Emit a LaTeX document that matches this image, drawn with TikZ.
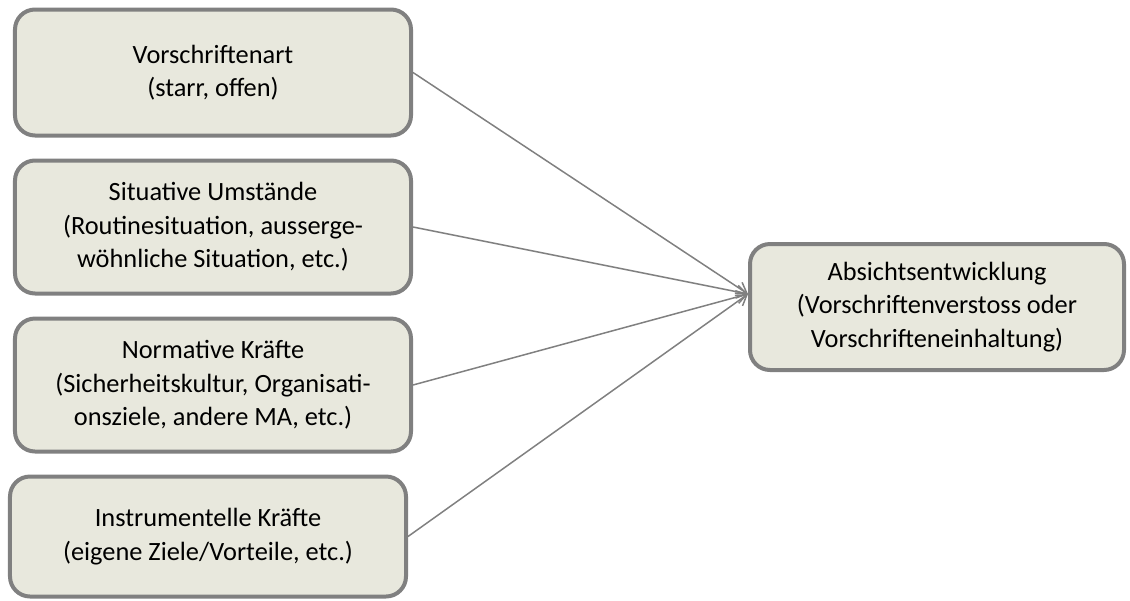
\documentclass[tikz,border=0pt]{standalone}
\usepackage{fontspec}
\setmainfont{Carlito}
\usepackage{tikz}
\usetikzlibrary{positioning}
\usetikzlibrary{arrows.meta}

\definecolor{boxfill}{RGB}{232,232,221}
\definecolor{boxline}{RGB}{128,128,128}

\begin{document}
\begin{tikzpicture}
    [factor/.style={draw=boxline, fill=boxfill, line width=0.08cm,
        rounded corners=0.4cm, align=center, minimum width=7.92cm,
        minimum height=2.52cm, font=\fontsize{15}{19}\selectfont},
     link/.style={draw=boxline, line width=0.03cm,
        -{Straight Barb[length=2mm,width=2.6mm]}},
     node distance=0.42cm]
    \useasboundingbox (0,0) rectangle (22.6,-12);

    \node[factor] (va) at (4.26,-1.45) {Vorschriftenart\\(starr, offen)};
    \node[factor, minimum height=2.66cm] (su) [below =of va]
        {Situative Umstände\\(Routinesituation, ausserge-\\wöhnliche Situation, etc.)};
    \node[factor, minimum height=2.66cm] (nk) [below =of su]
        {Normative Kräfte\\(Sicherheitskultur, Organisati-\\onsziele, andere MA, etc.)};
    \node[factor, minimum height=2.4cm] (ik) [below =of nk, xshift=-0.1cm]
        {Instrumentelle Kräfte\\(eigene Ziele/Vorteile, etc.)};
    \node[factor, minimum width=7.48cm] (ae) [right =6.7cm of su, yshift=-1.6cm]
        {Absichtsentwicklung\\(Vorschriftenverstoss oder\\Vorschrifteneinhaltung)};

    \coordinate (tip) at ([yshift=0.26cm]ae.west);

    \draw[link] (va.east) -- (tip);
    \draw[link] (su.east) -- (tip);
    \draw[link] (nk.east) -- (tip);
    \draw[link] (ik.east) -- (tip);

  \end{tikzpicture}
\end{document}
